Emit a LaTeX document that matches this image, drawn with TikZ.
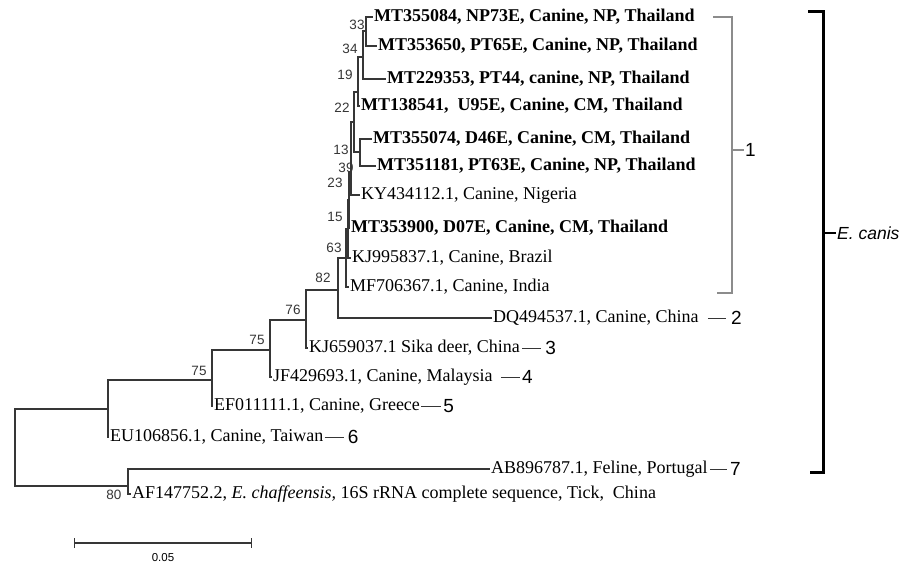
\documentclass[tikz,border=0pt]{standalone}
\usepackage{fontspec}
\setmainfont{Liberation Serif}
\setsansfont{Liberation Sans}
\usetikzlibrary{positioning,arrows.meta}
\definecolor{branch}{HTML}{363636}
\definecolor{cladegray}{HTML}{8C8C8C}

\begin{document}
\begin{tikzpicture}[x=1pt,y=-1pt,
    every node/.style={inner sep=1pt},
    leaf/.style={anchor=west,font=\fontsize{18}{20}\selectfont,text height=12pt,text depth=4pt},
    leafb/.style={leaf,font=\fontsize{18}{20}\selectfont\bfseries},
    boot/.style={font=\sffamily\fontsize{13.5}{15}\selectfont,text=branch},
    grp/.style={anchor=west,font=\sffamily\fontsize{19}{21}\selectfont},
    edge/.style={draw=branch,line width=1.4pt},
    grpline/.style={draw=branch,line width=1pt},
    cladeline/.style={draw=cladegray,line width=1.4pt},
    canisline/.style={draw=black,line width=3pt}]
    \useasboundingbox (0,0) rectangle (920,565);

    \node[leafb] (mt084) at (373,17) {MT355084, NP73E, Canine, NP, Thailand};
    \node[leafb] (mt650) at (377,46) {MT353650, PT65E, Canine, NP, Thailand};
    \node[leafb] (mt353) at (386,79) {MT229353, PT44, canine, NP, Thailand};
    \node[leafb] (mt541) at (360,106) {MT138541,\ \ U95E, Canine, CM, Thailand};
    \node[leafb] (mt074) at (372,139) {MT355074, D46E, Canine, CM, Thailand};
    \node[leafb] (mt181) at (376,166) {MT351181, PT63E, Canine, NP, Thailand};
    \node[leaf] (ky) at (360,195) {KY434112.1, Canine, Nigeria};
    \node[leafb] (mt900) at (350,228) {MT353900, D07E, Canine, CM, Thailand};
    \node[leaf] (kj995) at (351,258) {KJ995837.1, Canine, Brazil};
    \node[leaf] (mf) at (349,287) {MF706367.1, Canine, India};
    \node[leaf] (dq) at (492,318) {DQ494537.1, Canine, China};
    \node[leaf] (kj659) at (308,348) {KJ659037.1 Sika deer, China};
    \node[leaf] (jf) at (272,377) {JF429693.1, Canine, Malaysia};
    \node[leaf] (ef) at (213,406) {EF011111.1, Canine, Greece};
    \node[leaf] (eu) at (109,437) {EU106856.1, Canine, Taiwan};
    \node[leaf] (ab) at (490,469) {AB896787.1, Feline, Portugal};
    \node[leaf] (af) at (131,494) {AF147752.2, \textit{E. chaffeensis,} 16S rRNA complete sequence, Tick,\ \ China};

    \coordinate (n33) at (366,31);
    \coordinate (n34) at (363,57);
    \coordinate (n19) at (358,92);
    \coordinate (n22) at (354,122);
    \coordinate (n13) at (360,152);
    \coordinate (n39) at (351,172);
    \coordinate (n23) at (349,200);
    \coordinate (n15) at (348,229);
    \coordinate (n63) at (346,258);
    \coordinate (n82) at (338,290);
    \coordinate (n76) at (306,320);
    \coordinate (n75b) at (270,350);
    \coordinate (n75a) at (212,380);
    \coordinate (nA) at (108,409);
    \coordinate (n80) at (128,486);
    \coordinate (root) at (15,447);

    \draw[edge] (root) |- (nA) (root) |- (n80)
        (nA) |- (n75a) (nA) |- (eu.west)
        (n75a) |- (n75b) (n75a) |- (ef.west)
        (n75b) |- (n76) (n75b) |- (jf.west)
        (n76) |- (n82) (n76) |- (kj659.west)
        (n82) |- (n63) (n82) |- (dq.west)
        (n63) |- (n15) (n63) |- (mf.west)
        (n15) |- (n23) (n15) |- (kj995.west)
        (n23) |- (n39) (n23) |- (mt900.west)
        (n39) |- (n22) (n39) |- (ky.west)
        (n22) |- (n19) (n22) |- (n13)
        (n13) |- (mt074.west) (n13) |- (mt181.west)
        (n19) |- (n34) (n19) |- (mt541.west)
        (n34) |- (n33) (n34) |- (mt353.west)
        (n33) |- (mt084.west) (n33) |- (mt650.west)
        (n80) |- (ab.west) (n80) |- (af.west);

    \node[boot] (b33) at (357,25) {33};
    \node[boot] (b34) at (350,49) {34};
    \node[boot] (b19) at (345,75) {19};
    \node[boot] (b22) at (342,108) {22};
    \node[boot] (b13) at (341,150) {13};
    \node[boot] (b39) at (346,168) {39};
    \node[boot] (b23) at (335,183) {23};
    \node[boot] (b15) at (335,217) {15};
    \node[boot] (b63) at (334,248) {63};
    \node[boot] (b82) at (323,278) {82};
    \node[boot] (b76) at (293,310) {76};
    \node[boot] (b75b) at (257,340) {75};
    \node[boot] (b75a) at (199,371) {75};
    \node[boot] (b80) at (114,495) {80};

    \node[grp,right=30pt of dq] (g2) {2};
    \node[grp,right=23pt of kj659] (g3) {3};
    \node[grp,right=27pt of jf] (g4) {4};
    \node[grp,right=21pt of ef] (g5) {5};
    \node[grp,right=22pt of eu] (g6) {6};
    \node[grp,right=20pt of ab] (g7) {7};
    \draw[grpline,shorten <=8pt,shorten >=4pt] (dq.east) -- (dq.east -| g2.west);
    \draw[grpline,shorten <=1pt,shorten >=3pt] (kj659.east) -- (kj659.east -| g3.west);
    \draw[grpline,shorten <=7pt,shorten >=1pt] (jf.east) -- (jf.east -| g4.west);
    \draw[grpline,shorten >=1pt] (ef.east) -- (ef.east -| g5.west);
    \draw[grpline,shorten >=3pt] (eu.east) -- (eu.east -| g6.west);
    \draw[grpline,shorten <=1pt,shorten >=2pt] (ab.east) -- (ab.east -| g7.west);

    \coordinate (k1t) at (732,17);
    \coordinate (k1b) at (732,293);
    \draw[cladeline] ([xshift=-19pt]k1t) -- (k1t) -- (k1b) -- ([xshift=-15pt]k1b);
    \node[grp] (g1) at (744,150) {1};
    \draw[cladeline] (g1.west -| k1t) -- (g1.west);

    \coordinate (kct) at (823,11);
    \coordinate (kcb) at (823,472);
    \draw[canisline] ([xshift=-15pt]kct) -- (kct) -- (kcb) -- ([xshift=-13pt]kcb);
    \node[grp,font=\sffamily\itshape\fontsize{17.5}{20}\selectfont] (ecanis) at (836,233) {E. canis};
    \draw[canisline,line width=2.5pt] (ecanis.west -| kct) -- (ecanis.west);

    \coordinate (sbl) at (74,543);
    \coordinate (sbr) at (252,543);
    \draw[edge,line width=1.2pt,{Bar[width=10pt]}-{Bar[width=10pt]}] (sbl) -- (sbr);
    \node[font=\sffamily\fontsize{11.5}{13}\selectfont] (sbtxt) at (163,558) {0.05};
\end{tikzpicture}
\end{document}
